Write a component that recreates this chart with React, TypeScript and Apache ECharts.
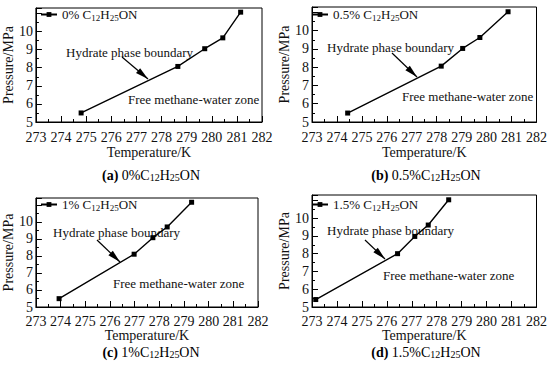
import React, { useEffect, useRef } from 'react';
import * as echarts from 'echarts';

// ---- data ----
const temps0 = [274.8, 278.65, 279.72, 280.44, 281.15];
const press0 = [5.5, 8.07, 9.05, 9.65, 11.07];
const temps05 = [274.43, 278.18, 279.04, 279.73, 280.86];
const press05 = [5.49, 8.06, 9.03, 9.63, 11.04];
const temps1 = [273.94, 276.98, 277.74, 278.32, 279.31];
const press1 = [5.49, 8.1, 9.07, 9.7, 11.15];
const temps15 = [273.15, 276.43, 277.12, 277.66, 278.48];
const press15 = [5.42, 8.0, 8.97, 9.61, 11.03];

const concentrations = ['0%', '0.5%', '1%', '1.5%'];
const panelLetters = ['(a)', '(b)', '(c)', '(d)'];
const xMin = 273;
const xMax = 282;
const yMin = 5;
const yMaxes = [11.3, 11.3, 11.4, 11.3];
const yLabelMax = 10;
const xName = 'Temperature/K';
const yName = 'Pressure/MPa';
const boundaryText = 'Hydrate phase boundary';
const zoneText = 'Free methane-water zone';

const allTemps = [temps0, temps05, temps1, temps15];
const allPress = [press0, press05, press1, press15];

// ---- layout ----
const FONT = 'Liberation Serif';
const grids = [
  { left: 35, top: 8, width: 227, height: 114 },
  { left: 312, top: 7, width: 226, height: 115 },
  { left: 35, top: 198, width: 223, height: 109 },
  { left: 312, top: 195, width: 226, height: 112 },
];
const xLabelMargins = [8, 8, 7, 7];
const xNameGaps = [23, 23, 21, 21];
const legendPos = [
  { left: 40, top: 8 },
  { left: 311, top: 8 },
  { left: 40, top: 198 },
  { left: 311, top: 198 },
];
const hydratePos = [[66, 52], [327, 47], [53, 232], [327, 230]];
const arrows = [
  [122, 57, 148, 79],
  [392, 53, 417, 77],
  [97, 240, 120, 262],
  [365, 240, 385, 259],
];
const zonePos = [[128, 99], [402, 96], [113, 283], [383, 275]];
const captionPos = [[151, 175], [426, 175], [151, 352], [426, 352]];

const subRich = {
  n: { fontFamily: FONT, fontSize: 13, color: '#111' },
  s: { fontFamily: FONT, fontSize: 9, color: '#111', padding: [7, 0, 0, 0] },
};
const capRich = {
  b: { fontFamily: FONT, fontSize: 14, fontWeight: 'bold', color: '#111' },
  n: { fontFamily: FONT, fontSize: 14, color: '#111' },
  s: { fontFamily: FONT, fontSize: 10, color: '#111', padding: [4, 0, 0, 0] },
};

function arrowHead(x1: number, y1: number, x2: number, y2: number) {
  const dx = x2 - x1;
  const dy = y2 - y1;
  const len = Math.sqrt(dx * dx + dy * dy);
  const ux = dx / len;
  const uy = dy / len;
  const hl = 13;
  const hw = 3.2;
  const bx = x2 - ux * hl;
  const by = y2 - uy * hl;
  return [
    [x2, y2],
    [bx - uy * hw, by + ux * hw],
    [bx + uy * hw, by - ux * hw],
  ];
}

export default function App() {
  const ref = useRef<HTMLDivElement>(null);
  useEffect(() => {
    document.body.style.margin = '0';
    if (!ref.current) return;
    const chart = echarts.init(ref.current, null, { renderer: 'svg' });

    const graphic: any[] = [];
    for (let i = 0; i < 4; i++) {
      graphic.push({
        type: 'text',
        x: hydratePos[i][0],
        y: hydratePos[i][1],
        style: { text: boundaryText, fontFamily: FONT, fontSize: 13, fill: '#111', verticalAlign: 'middle', align: 'left' },
      });
      graphic.push({
        type: 'text',
        x: zonePos[i][0],
        y: zonePos[i][1],
        style: { text: zoneText, fontFamily: FONT, fontSize: 13, fill: '#111', verticalAlign: 'middle', align: 'left' },
      });
      const [x1, y1, x2, y2] = arrows[i];
      graphic.push({
        type: 'line',
        shape: { x1, y1, x2, y2 },
        style: { stroke: '#000', lineWidth: 1.2 },
      });
      graphic.push({
        type: 'polygon',
        shape: { points: arrowHead(x1, y1, x2, y2) },
        style: { fill: '#000' },
      });
      graphic.push({
        type: 'text',
        x: captionPos[i][0],
        y: captionPos[i][1],
        style: {
          text: `{b|${panelLetters[i]}} {n|${concentrations[i]}C}{s|12}{n|H}{s|25}{n|ON}`,
          rich: capRich,
          align: 'center',
          verticalAlign: 'middle',
        },
      });
    }

    const option: any = {
      animation: false,
      backgroundColor: '#fff',
      textStyle: { fontFamily: FONT },
      grid: grids.map((g) => ({ ...g, show: true, borderColor: '#000', borderWidth: 1, backgroundColor: 'transparent' })),
      legend: concentrations.map((c, i) => ({
        ...legendPos[i],
        orient: 'vertical',
        data: [c],
        itemWidth: 16,
        itemHeight: 6,
        itemGap: 0,
        padding: 0,
        formatter: (name: string) => `{n|${name} C}{s|12}{n|H}{s|25}{n|ON}`,
        textStyle: { rich: subRich, fontFamily: FONT, fontSize: 13, color: '#111' },
      })),
      xAxis: grids.map((_, i) => ({
        gridIndex: i,
        type: 'value',
        min: xMin,
        max: xMax,
        interval: 1,
        axisLine: { show: true, onZero: false, lineStyle: { color: '#000', width: 1 } },
        axisTick: { show: true, inside: true, length: 6, lineStyle: { color: '#000' } },
        minorTick: { show: true, splitNumber: 2, length: 3, lineStyle: { color: '#000' } },
        splitLine: { show: false },
        minorSplitLine: { show: false },
        axisLabel: {
          color: '#111',
          fontFamily: FONT,
          fontSize: 14,
          lineHeight: 14,
          margin: xLabelMargins[i],
          showMinLabel: true,
          showMaxLabel: true,
          hideOverlap: false,
        },
        name: xName,
        nameLocation: 'middle',
        nameGap: xNameGaps[i],
        nameTextStyle: { color: '#111', fontFamily: FONT, fontSize: 14, fontWeight: 'normal' },
      })),
      yAxis: grids.map((_, i) => ({
        gridIndex: i,
        type: 'value',
        min: yMin,
        max: yMaxes[i],
        interval: 1,
        axisLine: { show: true, onZero: false, lineStyle: { color: '#000', width: 1 } },
        axisTick: { show: true, inside: true, length: 6, lineStyle: { color: '#000' } },
        minorTick: { show: true, splitNumber: 2, length: 3, lineStyle: { color: '#000' } },
        splitLine: { show: false },
        minorSplitLine: { show: false },
        axisLabel: {
          color: '#111',
          fontFamily: FONT,
          fontSize: 14,
          lineHeight: 12,
          margin: 3,
          showMaxLabel: true,
          formatter: (v: number) => (Math.abs(v - Math.round(v)) < 1e-6 && v <= yLabelMax ? String(Math.round(v)) : ''),
        },
        name: yName,
        nameLocation: 'middle',
        nameGap: 19,
        nameTextStyle: { color: '#111', fontFamily: FONT, fontSize: 14, fontWeight: 'normal' },
      })),
      series: concentrations.map((c, i) => ({
        name: c,
        type: 'line',
        xAxisIndex: i,
        yAxisIndex: i,
        data: allTemps[i].map((t, k) => [t, allPress[i][k]]),
        symbol: 'rect',
        symbolSize: 5,
        lineStyle: { color: '#000', width: 1.4 },
        itemStyle: { color: '#000' },
        color: '#000',
      })),
      graphic,
    };
    chart.setOption(option);
    return () => chart.dispose();
  }, []);
  return <div ref={ref} style={{ width: 550, height: 375 }} />;
}
